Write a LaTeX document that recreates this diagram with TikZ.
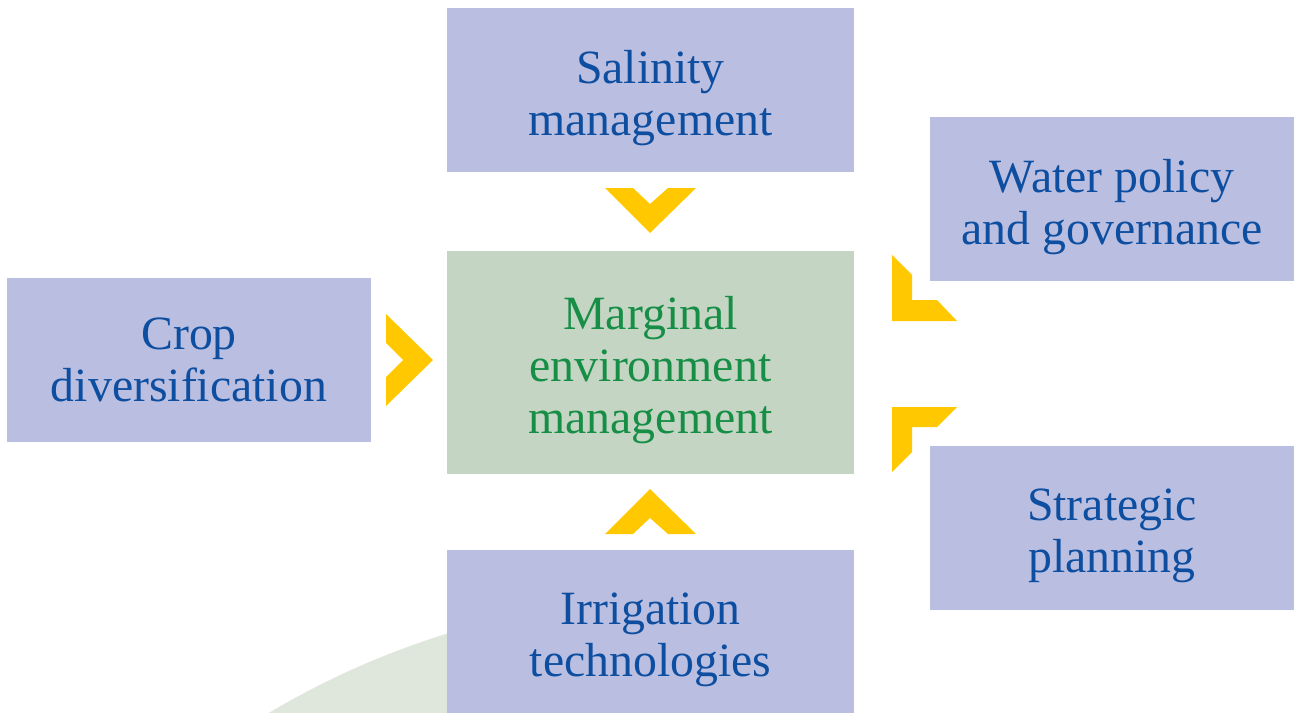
\documentclass[tikz,border=0pt]{standalone}
\usepackage{fontspec}
\setmainfont{Liberation Serif}
\usepackage{xcolor}
\definecolor{boxlav}{RGB}{186, 191, 225}
\definecolor{boxgreen}{RGB}{196, 214, 195}
\definecolor{textblue}{RGB}{14, 78, 160}
\definecolor{textgreen}{RGB}{22, 142, 70}
\definecolor{chevyellow}{RGB}{255, 200, 0}
\definecolor{arcgreen}{RGB}{223, 231, 220}

\begin{document}
\begin{tikzpicture}[
        x=0.02cm, y=-0.02cm,
        topic/.style={fill=boxlav, inner sep=0pt},
        topictext/.style={
            text=textblue,
            align=center,
            inner sep=0pt,
            yshift=-4.5pt,
            font=\fontsize{27.2}{29.6}\selectfont,
        },
        wide/.style={minimum width=8.14cm, minimum height=3.28cm},
        narrow/.style={minimum width=7.28cm, minimum height=3.28cm},
        chev/.style={fill=chevyellow},
    ]
    \useasboundingbox (0,0) rectangle (1295,713);

    % faint arc behind the bottom box
    \begin{scope}
        \clip (0,0) rectangle (447,713);
        \fill[arcgreen] (690,1420) circle [radius=16.46cm];
    \end{scope}

    \node[topic, wide, label={[topictext]center:Salinity\\management}]
        (salinity) at (650.5,90) {};
    \node[topic, narrow, label={[topictext]center:Water policy\\and governance}]
        (water) at (1112,199) {};
    \node[topic, narrow, label={[topictext, yshift=4.5pt]center:Crop\\diversification}]
        (crop) at (189,360) {};
    \node[topic, wide, fill=boxgreen, minimum height=4.46cm,
        label={[topictext, text=textgreen]center:Marginal\\environment\\management}]
        (marginal) at (650.5,362.5) {};
    \node[topic, narrow, label={[topictext]center:Strategic\\planning}]
        (strategic) at (1112,528) {};
    \node[topic, wide, label={[topictext]center:Irrigation\\technologies}]
        (irrigation) at (650.5,631.5) {};

    % chevrons pointing at the centre box
    \fill[chev] (605,188) -- (633,188) -- (650,204) -- (668,188) -- (696,188)
        -- (650,233) -- cycle;
    \fill[chev] (605,534) -- (633,534) -- (650,518) -- (668,534) -- (696,534)
        -- (650,489) -- cycle;
    \fill[chev] (386,314) -- (386,343) -- (403,360) -- (386,377) -- (386,406)
        -- (433,360) -- cycle;
    \fill[chev] (892,255) -- (912,275) -- (912,300) -- (937,300) -- (957,321)
        -- (892,321) -- cycle;
    \fill[chev] (892,407) -- (957,407) -- (937,427) -- (912,427) -- (912,452)
        -- (892,472) -- cycle;
\end{tikzpicture}
\end{document}
